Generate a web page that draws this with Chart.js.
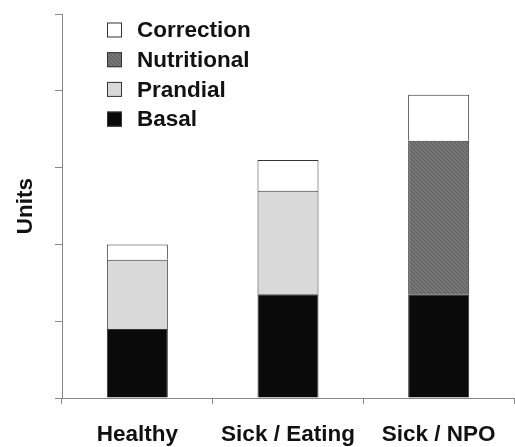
<!DOCTYPE html>
<html>
<head>
<meta charset="utf-8">
<script src="https://cdn.jsdelivr.net/npm/chart.js@4"></script>
<style>
  html, body { margin: 0; padding: 0; background: #fff; }
  #wrap { width: 515px; height: 447px; }
</style>
</head>
<body>
<div id="wrap"><canvas id="insulin-chart"></canvas></div>
<script>
const categories = ['Healthy', 'Sick / Eating', 'Sick / NPO'];
const basal = [0.9, 1.35, 1.35];
const prandial = [0.9, 1.35, 0];
const nutritional = [0, 0, 2.0];
const correction = [0.2, 0.4, 0.6];
const yTicks = [0, 1, 2, 3, 4, 5];

const FONT = '"Liberation Sans", Arial, sans-serif';

// fine diagonal texture for the nutritional segment
function hatch() {
  const c = document.createElement('canvas');
  c.width = 4; c.height = 4;
  const g = c.getContext('2d');
  g.fillStyle = '#767676';
  g.fillRect(0, 0, 4, 4);
  g.fillStyle = '#5e5e5e';
  g.fillRect(0, 0, 1, 1);
  g.fillRect(1, 1, 1, 1);
  g.fillRect(2, 2, 1, 1);
  g.fillRect(3, 3, 1, 1);
  return g.createPattern(c, 'repeat');
}

// legend drawn inside the plot, top-left, last dataset first
const insideLegend = {
  id: 'insideLegend',
  afterDraw(chart) {
    const ctx = chart.ctx;
    const area = chart.chartArea;
    const items = chart.data.datasets.slice().reverse();
    const x = area.left + 45;
    let y = area.top + 16;
    ctx.save();
    ctx.font = 'bold 22.5px ' + FONT;
    ctx.textBaseline = 'middle';
    items.forEach((ds) => {
      ctx.fillStyle = ds.backgroundColor;
      ctx.fillRect(x, y - 7.5, 15, 15);
      ctx.strokeStyle = '#333';
      ctx.lineWidth = 1;
      ctx.strokeRect(x + 0.5, y - 7, 14, 14);
      ctx.fillStyle = '#111';
      ctx.fillText(ds.label, x + 30, y + 1);
      y += 29.7;
    });
    ctx.restore();
  }
};

const ctx = document.getElementById('insulin-chart');

new Chart(ctx, {
  type: 'bar',
  data: {
    labels: categories,
    datasets: [
      { label: 'Basal', data: basal, backgroundColor: '#0a0a0a' },
      { label: 'Prandial', data: prandial, backgroundColor: '#d9d9d9' },
      { label: 'Nutritional', data: nutritional, backgroundColor: hatch() },
      { label: 'Correction', data: correction, backgroundColor: '#ffffff' },
    ].map((ds) => Object.assign(ds, {
      borderColor: '#333',
      borderWidth: 1,
      barPercentage: 0.405,
      categoryPercentage: 1,
    }))
  },
  options: {
    responsive: true,
    maintainAspectRatio: false,
    animation: false,
    layout: { padding: { top: 14, right: 1, left: 0, bottom: 0 } },
    plugins: {
      legend: { display: false },
      tooltip: { enabled: false },
    },
    scales: {
      x: {
        stacked: true,
        grid: {
          offset: true,
          drawOnChartArea: false,
          drawTicks: true,
          tickLength: 6,
          color: '#888',
        },
        border: { color: '#888', width: 1 },
        ticks: {
          color: '#111',
          padding: 17,
          maxRotation: 0,
          font: { family: FONT, size: 22.5, weight: 'bold' },
        },
        afterFit(scale) { scale.height = 49; },
      },
      y: {
        stacked: true,
        min: 0,
        max: 5,
        afterBuildTicks(scale) { scale.ticks = yTicks.map((v) => ({ value: v })); },
        grid: {
          drawOnChartArea: false,
          drawTicks: true,
          tickLength: 7,
          color: '#888',
        },
        border: { color: '#888', width: 1 },
        ticks: { display: false },
        title: {
          display: true,
          text: 'Units',
          color: '#111',
          padding: { top: 12, bottom: 0 },
          font: { family: FONT, size: 22.5, weight: 'bold' },
        },
        afterFit(scale) { scale.width = 62; },
      },
    },
  },
  plugins: [insideLegend],
});
</script>
</body>
</html>
